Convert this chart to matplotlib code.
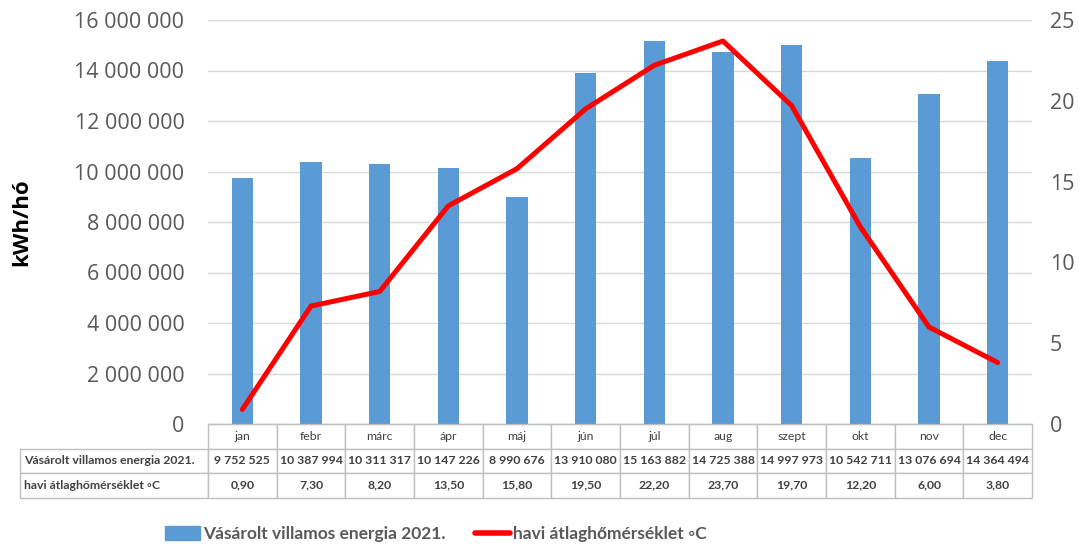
import matplotlib
matplotlib.use('Agg')
import matplotlib.pyplot as plt
from matplotlib.table import Table
from matplotlib.ticker import FuncFormatter
from matplotlib.patches import Patch
from matplotlib.lines import Line2D

plt.rcParams['font.family'] = ['Open Sans', 'DejaVu Sans']
NARROW = ['Lato', 'DejaVu Sans']

months = ['jan', 'febr', 'márc', 'ápr', 'máj', 'jún', 'júl', 'aug', 'szept', 'okt', 'nov', 'dec']
energy = [9752525, 10387994, 10311317, 10147226, 8990676, 13910080,
          15163882, 14725388, 14997973, 10542711, 13076694, 14364494]
temp = [0.90, 7.30, 8.20, 13.50, 15.80, 19.50, 22.20, 23.70, 19.70, 12.20, 6.00, 3.80]
energy_label = 'Vásárolt villamos energia 2021.'
temp_label = 'havi átlaghőmérséklet ◦C'

BLUE = '#5B9BD5'
RED = '#FF0000'
TXT = '#595959'
GRID = '#D9D9D9'
TBL = '#BFBFBF'

W, H = 1079, 547
fig = plt.figure(figsize=(W / 100, H / 100), dpi=100)
L, R, T, B = 208, 1032, 20, 424
ax = fig.add_axes([L / W, 1 - B / H, (R - L) / W, (B - T) / H])
ax2 = ax.twinx()

x = list(range(len(months)))
ax.bar(x, energy, width=0.31, color=BLUE, zorder=2)
ax2.plot(x, temp, color=RED, lw=3.6, solid_capstyle='round', zorder=3)

ax.set_xlim(-0.5, 11.5)
ax.set_ylim(0, 16000000)
ax.set_yticks(range(0, 16000001, 2000000))
ax.yaxis.set_major_formatter(FuncFormatter(lambda v, p: f'{int(v):,}'.replace(',', ' ')))
ax2.set_ylim(0, 25)
ax2.set_yticks(range(0, 26, 5))
ax.set_xticks([])

ax.grid(axis='y', color=GRID, lw=1, zorder=0)
ax.set_axisbelow(True)
for a in (ax, ax2):
    for s in ['top', 'left', 'right']:
        a.spines[s].set_visible(False)
    a.spines['bottom'].set_color(TBL)
ax.tick_params(axis='y', length=0, labelsize=15.5, labelcolor=TXT, pad=17)
ax2.tick_params(axis='y', length=0, labelsize=15.5, labelcolor=TXT, pad=13)
ax.set_ylabel('kWh/hó', fontsize=16, fontweight='bold', color='black', labelpad=30)

# data table under the plot (row-label column sits left of the bbox)
rh = 24.5 / (B - T)
lw_ = (L - 20) / (R - L)
tbl = Table(ax, bbox=[0, -3 * rh, 1, 3 * rh])
rows = [months,
        [f'{v:,}'.replace(',', ' ') for v in energy],
        [f'{v:.2f}'.replace('.', ',') for v in temp]]
labels = ['', energy_label, temp_label]
for r in range(3):
    c = tbl.add_cell(r, -1, width=lw_, height=rh, text=labels[r], loc='left')
    c.set_edgecolor(TBL)
    c.get_text().set_fontweight('bold')
    c.PAD = 0.02
    if r == 0:
        c.visible_edges = ''
    for j in range(12):
        c = tbl.add_cell(r, j, width=1 / 12, height=rh, text=rows[r][j], loc='center')
        c.set_edgecolor(TBL)
        if r > 0:
            c.get_text().set_fontweight('bold')
tbl.auto_set_font_size(False)
tbl.set_fontsize(8.8)
for c in tbl.get_celld().values():
    c.get_text().set_family(NARROW)
    c.get_text().set_color('#404040')
tbl.set_clip_on(False)
ax.add_table(tbl)

handles = [Patch(color=BLUE), Line2D([0], [0], color=RED, lw=4, solid_capstyle='round')]
leg = fig.legend(handles, [energy_label, temp_label], loc='center left',
                 bbox_to_anchor=(165 / W, 1 - 534 / H), ncol=2, frameon=False,
                 borderpad=0, borderaxespad=0, handlelength=2.0, handleheight=0.85,
                 handletextpad=0.2, columnspacing=1.7,
                 prop={'size': 12.5, 'weight': 'bold', 'family': NARROW})
for t in leg.get_texts():
    t.set_color(TXT)

fig.savefig('out.png', dpi=100)
